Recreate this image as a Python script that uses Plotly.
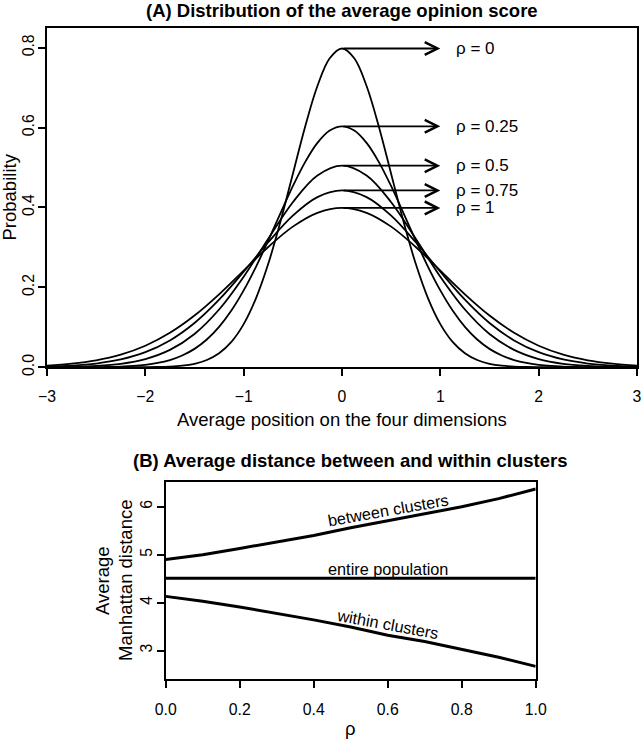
import plotly.graph_objects as go

# ---------------- Panel A data ----------------
x_fine = [-3.0, -2.875, -2.75, -2.625, -2.5, -2.375, -2.25, -2.125, -2.0, -1.875, -1.75, -1.625,
          -1.5, -1.375, -1.25, -1.125, -1.0, -0.875, -0.75, -0.625, -0.5, -0.375, -0.25, -0.125,
          0.0, 0.125, 0.25, 0.375, 0.5, 0.625, 0.75, 0.875, 1.0, 1.125, 1.25, 1.375,
          1.5, 1.625, 1.75, 1.875, 2.0, 2.125, 2.25, 2.375, 2.5, 2.625, 2.75, 2.875, 3.0]
x_coarse = [-3.0, -2.75, -2.5, -2.25, -2.0, -1.75, -1.5, -1.25, -1.0, -0.75, -0.5, -0.25,
            0.0, 0.25, 0.5, 0.75, 1.0, 1.25, 1.5, 1.75, 2.0, 2.25, 2.5, 2.75, 3.0]

dens_rho_0 = [0, 0, 0, 0, 0, 0, 0.00003, 0.0001, 0.00027, 0.00071, 0.00175, 0.00406,
              0.00886, 0.0182, 0.0351, 0.0635, 0.108, 0.1726, 0.259, 0.3653, 0.484, 0.6023, 0.704, 0.7734,
              0.798, 0.7734, 0.704, 0.6023, 0.484, 0.3653, 0.259, 0.1726, 0.108, 0.0635, 0.0351, 0.0182,
              0.00886, 0.00406, 0.00175, 0.00071, 0.00027, 0.0001, 0.00003, 0, 0, 0, 0, 0, 0]
dens_rho_025 = [0.00002, 0.00005, 0.00011, 0.00023, 0.00048, 0.00096, 0.00185, 0.00346, 0.00624, 0.01085, 0.0182, 0.0295,
                0.0461, 0.0695, 0.1012, 0.142, 0.1924, 0.2515, 0.3172, 0.386, 0.4533, 0.5136, 0.5616, 0.5925,
                0.6032, 0.5925, 0.5616, 0.5136, 0.4533, 0.386, 0.3172, 0.2515, 0.1924, 0.142, 0.1012, 0.0695,
                0.0461, 0.0295, 0.0182, 0.01085, 0.00624, 0.00346, 0.00185, 0.00096, 0.00048, 0.00023, 0.00011, 0.00005, 0.00002]
dens_rho_05 = [0.00038, 0.00119, 0.0034, 0.00879, 0.0206, 0.0435, 0.0834, 0.1446, 0.2267, 0.3217, 0.4131, 0.48,
               0.5046, 0.48, 0.4131, 0.3217, 0.2267, 0.1446, 0.0834, 0.0435, 0.0206, 0.00879, 0.0034, 0.00119, 0.00038]
dens_rho_075 = [0.00174, 0.00422, 0.00946, 0.0196, 0.0378, 0.0672, 0.1108, 0.1692, 0.2392, 0.3131, 0.3795, 0.4259,
                0.4426, 0.4259, 0.3795, 0.3131, 0.2392, 0.1692, 0.1108, 0.0672, 0.0378, 0.0196, 0.00946, 0.00422, 0.00174]
dens_rho_1 = [0.0044, 0.0091, 0.0175, 0.0317, 0.054, 0.0863, 0.1295, 0.1826, 0.242, 0.3011, 0.3521, 0.3867,
              0.3989, 0.3867, 0.3521, 0.3011, 0.242, 0.1826, 0.1295, 0.0863, 0.054, 0.0317, 0.0175, 0.0091, 0.0044]

curve_labels = ["ρ = 0", "ρ = 0.25", "ρ = 0.5", "ρ = 0.75", "ρ = 1"]
peak_values = [0.798, 0.6032, 0.5046, 0.4426, 0.3989]

# ---------------- Panel B data ----------------
rho_vals = [0.0, 0.1, 0.2, 0.3, 0.4, 0.5, 0.6, 0.7, 0.8, 0.9, 1.0]
between_clusters = [4.90, 5.00, 5.13, 5.27, 5.40, 5.56, 5.71, 5.85, 6.00, 6.17, 6.37]
entire_population = [4.51, 4.51, 4.51, 4.52, 4.52, 4.51, 4.52, 4.52, 4.51, 4.52, 4.51]
within_clusters = [4.13, 4.03, 3.91, 3.78, 3.64, 3.49, 3.32, 3.19, 3.03, 2.86, 2.67]

xticks_a = [-3, -2, -1, 0, 1, 2, 3]
yticks_a = [0.0, 0.2, 0.4, 0.6, 0.8]
yticks_a_text = ["0.0", "0.2", "0.4", "0.6", "0.8"]
xticks_b = [0.0, 0.2, 0.4, 0.6, 0.8, 1.0]
xticks_b_text = ["0.0", "0.2", "0.4", "0.6", "0.8", "1.0"]
yticks_b = [3, 4, 5, 6]

FONT = "Liberation Sans, Arial, Helvetica, sans-serif"
W, H = 641, 740


def px(v):
    return v / W


def py(v):
    return 1 - v / H


fig = go.Figure()

for xs, dens in [(x_fine, dens_rho_0), (x_fine, dens_rho_025), (x_coarse, dens_rho_05),
                 (x_coarse, dens_rho_075), (x_coarse, dens_rho_1)]:
    fig.add_trace(go.Scatter(x=xs, y=dens, mode="lines",
                             line=dict(color="black", width=1.8, shape="spline", smoothing=1.0),
                             xaxis="x", yaxis="y", showlegend=False, hoverinfo="skip"))

for series in [between_clusters, entire_population, within_clusters]:
    fig.add_trace(go.Scatter(x=rho_vals, y=series, mode="lines",
                             line=dict(color="black", width=3),
                             xaxis="x2", yaxis="y2", showlegend=False, hoverinfo="skip"))

annotations = []
for lab, pk in zip(curve_labels, peak_values):
    annotations.append(dict(x=1.0, y=pk, ax=0, ay=pk, xref="x", yref="y", axref="x", ayref="y",
                            text="", showarrow=True, arrowhead=5, arrowsize=1.4, arrowwidth=1.8,
                            arrowcolor="black"))
    annotations.append(dict(x=1.14, y=pk, xref="x", yref="y", text=lab, showarrow=False,
                            xanchor="left", yanchor="middle",
                            font=dict(family=FONT, size=17, color="black")))

# panel B labels
annotations.append(dict(x=0.6, y=5.93, xref="x2", yref="y2", text="between clusters", showarrow=False,
                        textangle=-10, font=dict(family=FONT, size=16.3, color="black")))
annotations.append(dict(x=0.6, y=4.70, xref="x2", yref="y2", text="entire population", showarrow=False,
                        font=dict(family=FONT, size=16.3, color="black")))
annotations.append(dict(x=0.6, y=3.56, xref="x2", yref="y2", text="within clusters", showarrow=False,
                        textangle=10.5, font=dict(family=FONT, size=16.3, color="black")))

# titles and axis titles
annotations += [
    dict(x=px(342), y=py(10.5), xref="paper", yref="paper", showarrow=False,
         text="<b>(A) Distribution of the average opinion score</b>",
         font=dict(family=FONT, size=18.5, color="black"), xanchor="center", yanchor="middle"),
    dict(x=px(342), y=py(419), xref="paper", yref="paper", showarrow=False,
         text="Average position on the four dimensions",
         font=dict(family=FONT, size=18.5, color="black"), xanchor="center", yanchor="middle"),
    dict(x=px(9), y=py(197.5), xref="paper", yref="paper", showarrow=False, textangle=-90,
         text="Probability",
         font=dict(family=FONT, size=18.5, color="black"), xanchor="center", yanchor="middle"),
    dict(x=px(350.7), y=py(460.5), xref="paper", yref="paper", showarrow=False,
         text="<b>(B) Average distance between and within clusters</b>",
         font=dict(family=FONT, size=18.5, color="black"), xanchor="center", yanchor="middle"),
    dict(x=px(350.7), y=py(728), xref="paper", yref="paper", showarrow=False,
         text="ρ",
         font=dict(family=FONT, size=18.5, color="black"), xanchor="center", yanchor="middle"),
    dict(x=px(102), y=py(581), xref="paper", yref="paper", showarrow=False, textangle=-90,
         text="Average",
         font=dict(family=FONT, size=18.5, color="black"), xanchor="center", yanchor="middle"),
    dict(x=px(125), y=py(581), xref="paper", yref="paper", showarrow=False, textangle=-90,
         text="Manhattan distance",
         font=dict(family=FONT, size=18.5, color="black"), xanchor="center", yanchor="middle"),
]

axis_common = dict(showline=True, linecolor="black", linewidth=1.5, mirror=True,
                   ticks="outside", ticklen=7, tickwidth=1.5, tickcolor="black",
                   showgrid=False, zeroline=False, automargin=False, ticklabeloverflow="allow",
                   tickfont=dict(family=FONT, size=15.8, color="black"))

fig.update_layout(
    template="none",
    width=W, height=H, autosize=False,
    margin=dict(l=0, r=0, t=0, b=0, pad=0),
    paper_bgcolor="white", plot_bgcolor="white",
    showlegend=False,
    xaxis=dict(domain=[px(47), px(637)], range=[-3, 3], tickvals=xticks_a,
               anchor="y", ticklabelstandoff=7, **axis_common),
    yaxis=dict(domain=[py(367.3), py(27.7)], range=[0, 0.85], tickvals=yticks_a,
               ticktext=yticks_a_text, tickangle=-90, anchor="x", ticklabelstandoff=-2, **axis_common),
    xaxis2=dict(domain=[px(165.7), px(535.7)], range=[0, 1], tickvals=xticks_b,
                ticktext=xticks_b_text, anchor="y2", ticklabelstandoff=8, **axis_common),
    yaxis2=dict(domain=[py(679.3), py(482.3)], range=[2.40, 6.51], tickvals=yticks_b,
                tickangle=-90, anchor="x2", ticklabelstandoff=-1, **axis_common),
    annotations=annotations,
)

fig.write_html("out.html", config={"displayModeBar": False},
               post_script="document.body.style.margin='0';document.body.style.padding='0';")
